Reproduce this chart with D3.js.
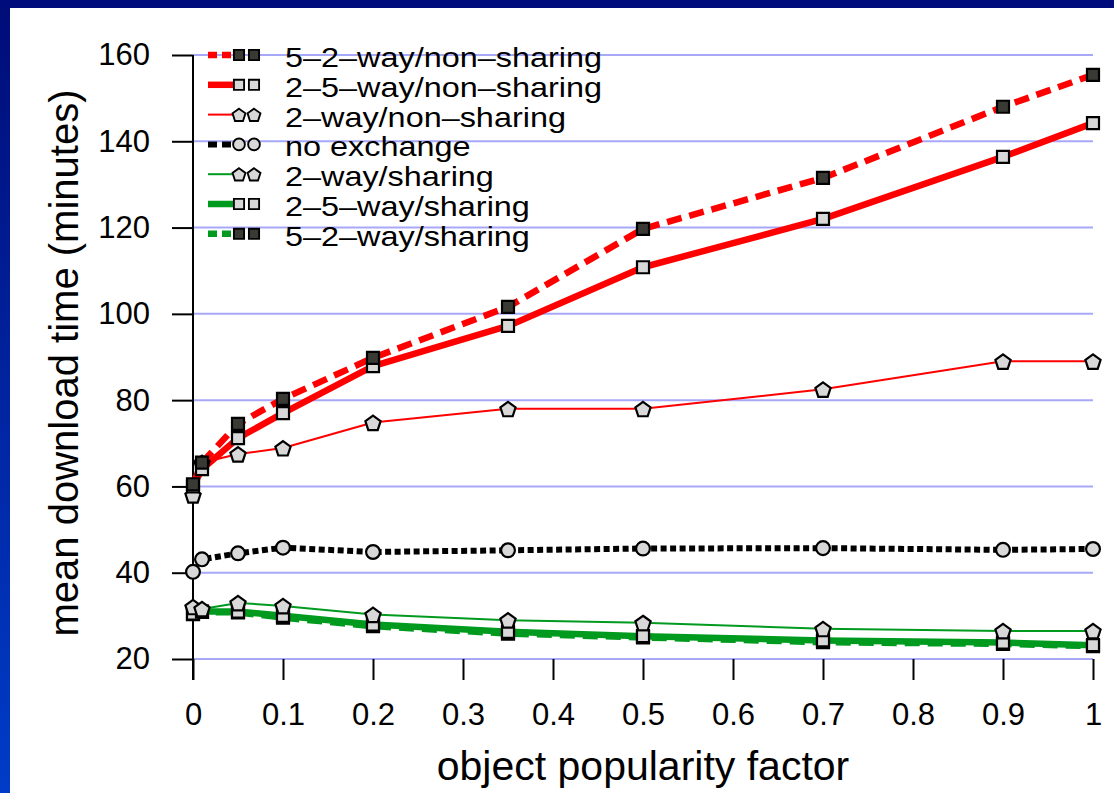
<!DOCTYPE html>
<html>
<head>
<meta charset="utf-8">
<script src="https://cdn.jsdelivr.net/npm/d3@7"></script>
<style>
  body { margin: 0; background: #fff; }
  svg { display: block; font-family: "Liberation Sans", Arial, sans-serif; }
</style>
</head>
<body>
<svg id="chart" width="1114" height="793"></svg>
<script>
// data
const popularity = [0, 0.01, 0.05, 0.1, 0.2, 0.35, 0.5, 0.7, 0.9, 1];
const yTicks = [20, 40, 60, 80, 100, 120, 140, 160];
const xTicks = [0, 0.1, 0.2, 0.3, 0.4, 0.5, 0.6, 0.7, 0.8, 0.9, 1];

const way52NonSharing = [60.5, 65.5, 74.5, 80.3, 89.8, 101.6, 119.7, 131.5, 148, 155.4];
const way25NonSharing = [60, 64, 71.2, 77, 87.9, 97.2, 110.8, 122, 136.4, 144.2];
const way2NonSharing  = [58, 65.5, 67.5, 68.9, 74.8, 78, 78, 82.5, 89, 89];
const noExchange      = [40.2, 43.1, 44.5, 45.8, 44.8, 45.2, 45.6, 45.7, 45.3, 45.5];
const way2Sharing     = [32.1, 31.6, 33, 32.3, 30.3, 29, 28.4, 27, 26.5, 26.5];
const way25Sharing    = [30.5, 31, 31, 30, 28, 26.3, 25.3, 24.3, 23.8, 23.2];
const way52Sharing    = [30.4, 30.9, 30.8, 29.6, 27.6, 25.9, 25, 23.9, 23.5, 23];

const seriesNames = ["5\u20132\u2013way/non\u2013sharing", "2\u20135\u2013way/non\u2013sharing",
  "2\u2013way/non\u2013sharing", "no exchange", "2\u2013way/sharing",
  "2\u20135\u2013way/sharing", "5\u20132\u2013way/sharing"];

const red = "#ff0000", green = "#009a1e";

// series styles (legend order)
const series = [
  {name: seriesNames[0], values: way52NonSharing, color: red,    width: 6.5, dash: "15,8",  marker: "square",   fill: "#3a3a34"},
  {name: seriesNames[1], values: way25NonSharing, color: red,    width: 6.5, dash: null,    marker: "square",   fill: "#d8d8d8"},
  {name: seriesNames[2], values: way2NonSharing,  color: red,    width: 2,   dash: null,    marker: "pentagon", fill: "#d8d8d8"},
  {name: seriesNames[3], values: noExchange,      color: "#000", width: 6,   dash: "6,3.5", marker: "circle",   fill: "#d8d8d8"},
  {name: seriesNames[4], values: way2Sharing,     color: green,  width: 2,   dash: null,    marker: "pentagon", fill: "#d8d8d8"},
  {name: seriesNames[5], values: way25Sharing,    color: green,  width: 6.5, dash: null,    marker: "square",   fill: "#d8d8d8"},
  {name: seriesNames[6], values: way52Sharing,    color: green,  width: 6.5, dash: "15,8",  marker: "square",   fill: "#3a3a34"}
];

const svg = d3.select("#chart");

// slide border
const grad = svg.append("defs").append("linearGradient")
    .attr("id", "edge").attr("x1", 0).attr("y1", 0).attr("x2", 0).attr("y2", 1);
grad.append("stop").attr("offset", "0%").attr("stop-color", "#000c78");
grad.append("stop").attr("offset", "100%").attr("stop-color", "#003cc8");
svg.append("rect").attr("x", 0).attr("y", 0).attr("width", 10).attr("height", 793).attr("fill", "url(#edge)");
svg.append("rect").attr("x", 0).attr("y", 0).attr("width", 1114).attr("height", 8).attr("fill", "#000c7b");

const x = d3.scaleLinear().domain([0, 1]).range([193, 1093]);
const y = d3.scaleLinear().domain([20, 160]).range([659, 55]);

// gridlines
svg.append("g").selectAll("line")
  .data(yTicks)
  .join("line")
    .attr("x1", x(0)).attr("x2", x(1))
    .attr("y1", d => y(d)).attr("y2", d => y(d))
    .attr("stroke", "#a8a8f8").attr("stroke-width", 2);

// axes
const yAxis = svg.append("g")
    .attr("transform", `translate(${x(0)},0)`)
    .call(d3.axisLeft(y).tickValues(yTicks).tickSize(21).tickPadding(22).tickSizeOuter(0));
yAxis.select(".domain").remove();
yAxis.selectAll("line").attr("stroke", "#000").attr("stroke-width", 2);
yAxis.selectAll("text").attr("font-size", 31).attr("fill", "#000").attr("font-family", "Liberation Sans, Arial, sans-serif");

const xAxis = svg.append("g")
    .attr("transform", `translate(0,${y(20)})`)
    .call(d3.axisBottom(x).tickValues(xTicks).tickSize(21).tickPadding(23).tickFormat(d3.format("~g")).tickSizeOuter(0));
xAxis.select(".domain").remove();
xAxis.selectAll("line").attr("stroke", "#000").attr("stroke-width", 2);
xAxis.selectAll("text").attr("font-size", 31).attr("fill", "#000").attr("font-family", "Liberation Sans, Arial, sans-serif");

// y axis line
svg.append("line")
    .attr("x1", x(0)).attr("x2", x(0))
    .attr("y1", y(160)).attr("y2", y(20) + 21)
    .attr("stroke", "#000").attr("stroke-width", 2);

// axis titles
svg.append("text")
    .text("object popularity factor")
    .attr("x", (x(0) + x(1)) / 2).attr("y", 780)
    .attr("text-anchor", "middle")
    .attr("font-size", 41);

svg.append("text")
    .text("mean download time (minutes)")
    .attr("transform", `translate(78,363) rotate(-90)`)
    .attr("text-anchor", "middle")
    .attr("font-size", 40);

// marker shapes
function markerPath(type) {
  if (type === "square") return "M-6,-6H6V6H-6Z";
  if (type === "circle") return d3.symbol(d3.symbolCircle, 150)();
  const r = 8, pts = [];
  for (let i = 0; i < 5; i++) {
    const a = -Math.PI / 2 + i * 2 * Math.PI / 5;
    pts.push([r * Math.cos(a), r * Math.sin(a) + 1]);
  }
  return "M" + pts.join("L") + "Z";
}

const line = d3.line()
    .x((d, i) => x(popularity[i]))
    .y(d => y(d));

// draw lines, bottom series first
const plot = svg.append("g");
series.slice().reverse().forEach(function(s) {
  plot.append("path")
      .datum(s.values)
      .attr("d", line)
      .attr("fill", "none")
      .attr("stroke", s.color)
      .attr("stroke-width", s.width)
      .attr("stroke-dasharray", s.dash)
      .attr("stroke-linejoin", "round");
});
series.slice().reverse().forEach(function(s) {
  plot.append("g").selectAll("path")
    .data(s.values)
    .join("path")
      .attr("d", markerPath(s.marker))
      .attr("transform", (d, i) => `translate(${x(popularity[i])},${y(d)})`)
      .attr("fill", s.fill)
      .attr("stroke", "#000")
      .attr("stroke-width", 2.2);
});

// legend
const legend = svg.append("g").attr("transform", "translate(208,55)");
const rows = legend.selectAll("g")
  .data(series)
  .join("g")
    .attr("transform", (d, i) => `translate(0,${i * 29.8})`);
rows.append("line")
    .attr("x1", 0).attr("x2", 27).attr("y1", 0).attr("y2", 0)
    .attr("stroke", d => d.color)
    .attr("stroke-width", d => d.width)
    .attr("stroke-dasharray", d => d.dash ? "9,5" : null);
[31, 46].forEach(function(mx) {
  rows.append("path")
      .attr("d", d => markerPath(d.marker))
      .attr("transform", `translate(${mx},0) scale(0.85)`)
      .attr("fill", d => d.fill)
      .attr("stroke", "#000")
      .attr("stroke-width", 2.2);
});
// the legend lettering is set wide, so stretch it sideways
rows.append("text")
    .text(d => d.name)
    .attr("transform", "translate(77,12) scale(1.2,1)")
    .attr("font-size", 27);
</script>
</body>
</html>
